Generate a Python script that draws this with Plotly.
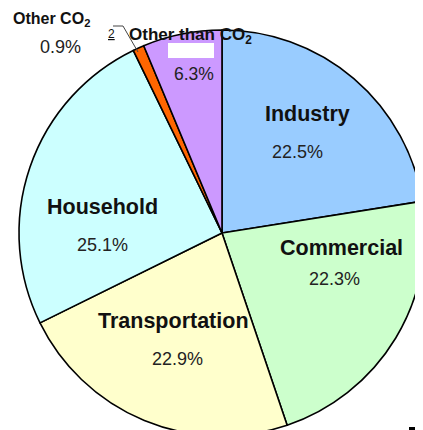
import plotly.graph_objects as go

categories = ["Industry", "Commercial", "Transportation", "Household", "Other CO2", "Other than CO2"]
shares = [22.5, 22.3, 22.9, 25.1, 0.9, 6.3]
colors = ["#99CCFF", "#CCFFCC", "#FFFFCC", "#CCFFFF", "#FF6600", "#CC99FF"]
label_text = ["Industry", "Commercial", "Transportation", "Household", "Other CO<sub>2</sub>", "Other than CO<sub>2</sub>"]
pct_text = ["22.5%", "22.3%", "22.9%", "25.1%", "0.9%", "6.3%"]

W, H = 423, 440
OFF = 8  # default page body margin
FONT = "Liberation Sans, Arial, sans-serif"

def px(x, y):
    """screen pixel -> paper coords"""
    return (x - OFF) / W, 1 - (y - OFF) / H

# pie placement (screen centre 222,233 radius 203)
pcx, pcy, pr = 222 - OFF, 233 - OFF, 203
dom_x = [(pcx - pr) / W, (pcx + pr) / W]
dom_y = [1 - (pcy + pr) / H, 1 - (pcy - pr) / H]

fig = go.Figure(go.Pie(
    labels=categories,
    values=shares,
    sort=False,
    direction="clockwise",
    rotation=0,
    marker=dict(colors=colors, line=dict(color="black", width=1.6)),
    textinfo="none",
    hoverinfo="label+percent",
    showlegend=False,
    domain=dict(x=dom_x, y=dom_y),
))

# label positions (screen pixel centres)
name_pos = [(307, 114), (341, 248), (173, 321), (102, 207), (51, 19), (190, 36)]
name_size = [21.5, 21.5, 21.5, 21.5, 16, 17]
pct_pos = [(297, 152), (334, 279), (177, 359), (102, 245), (60, 47), (194, 74)]
pct_size = [18, 18, 18, 18, 18, 17.5]

annotations = []
for t, (x, y), sz in zip(label_text, name_pos, name_size):
    ax, ay = px(x, y)
    annotations.append(dict(text=f"<b>{t}</b>", x=ax, y=ay, xref="paper", yref="paper",
                            showarrow=False, xanchor="center", yanchor="middle",
                            font=dict(family=FONT, size=sz, color="#111111")))
for t, (x, y), sz in zip(pct_text, pct_pos, pct_size):
    ax, ay = px(x, y)
    annotations.append(dict(text=t, x=ax, y=ay, xref="paper", yref="paper",
                            showarrow=False, xanchor="center", yanchor="middle",
                            font=dict(family=FONT, size=sz, color="#222222")))
# stray underlined "2"
ax, ay = px(106, 25)
annotations.append(dict(text="<span style='text-decoration:underline'>2</span>", x=ax, y=ay,
                        xref="paper", yref="paper", showarrow=False,
                        font=dict(family=FONT, size=12, color="#111111")))

shapes = []
# leader line for Other CO2
x0, y0 = px(113, 26)
x1, y1 = px(123, 26)
x2, y2 = px(138, 52)
shapes.append(dict(type="path", xref="paper", yref="paper",
                   path=f"M {x0} {y0} L {x1} {y1} L {x2} {y2}",
                   line=dict(color="#444444", width=1)))
# white box over the Other than CO2 slice
bx0, by0 = px(168, 43)
bx1, by1 = px(214, 58)
shapes.append(dict(type="rect", xref="paper", yref="paper", x0=bx0, y0=by1, x1=bx1, y1=by0,
                   fillcolor="white", line=dict(width=0), layer="above"))
# small dark bar bottom right
cx0, cy0 = px(409, 427)
cx1, cy1 = px(423, 430)
shapes.append(dict(type="rect", xref="paper", yref="paper", x0=cx0, y0=cy1, x1=cx1, y1=cy0,
                   fillcolor="black", line=dict(width=0), layer="above"))

fig.update_layout(
    width=W, height=H,
    margin=dict(l=0, r=0, t=0, b=0),
    paper_bgcolor="white", plot_bgcolor="white",
    annotations=annotations, shapes=shapes,
)

fig.write_html("out.html")
